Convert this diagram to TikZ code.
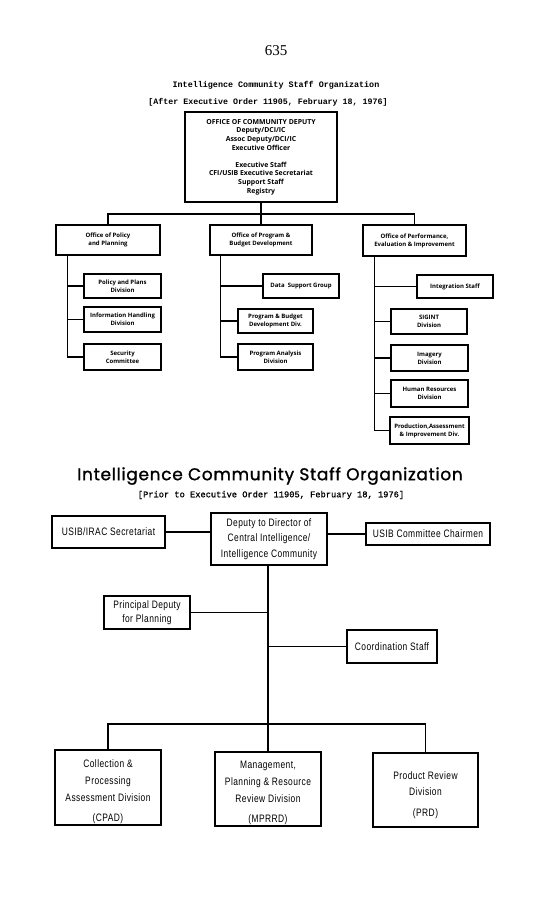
\documentclass[tikz,border=0pt]{standalone}
\usepackage{fontspec}
\setmainfont{Liberation Serif}
\newfontfamily\chartfont{Open Sans}
\newfontfamily\typefont{Liberation Mono}
\newfontfamily\typefontm[FakeBold=0.8]{Liberation Mono}
\newfontfamily\condfont[FakeStretch=0.78,LetterSpace=4]{Liberation Sans}
\newfontfamily\titlefont[FakeBold=1.2,LetterSpace=4]{Poppins}
\begin{document}
\begin{tikzpicture}[x=1pt,y=-1pt,
  box/.style={draw, line width=1.4pt, rectangle, inner sep=0pt, align=center},
  topbox/.style={box, font=\chartfont\bfseries\fontsize{6.9}{8.7}\selectfont},
  subbox/.style={box, font=\chartfont\bfseries\fontsize{6.0}{8}\selectfont},
  lowbox/.style={box, line width=1.2pt, font=\condfont\fontsize{10.8}{16}\selectfont},
  conn/.style={line width=1.3pt},
  lconn/.style={line width=1.1pt}]
\fill[white] (0,0) rectangle (552,901);
\useasboundingbox (0,0) rectangle (552,901);

% titles
\node[font=\fontsize{15}{16}\selectfont] (pg) at (276,51) {635};
\node[font=\typefont\bfseries\fontsize{8.4}{9}\selectfont] (t1) at (276,85) {Intelligence Community Staff Organization};
\node[font=\typefont\bfseries\fontsize{8.3}{9}\selectfont] (t2) at (268,102) {[After Executive Order 11905, February 18, 1976]};

% top chart
\node[topbox, minimum width=152pt, minimum height=90pt] (top) at (261,157)
  {OFFICE OF COMMUNITY DEPUTY\\Deputy/DCI/IC\\Assoc Deputy/DCI/IC\\Executive Officer\\[8pt]Executive Staff\\CFI/USIB Executive Secretariat\\Support Staff\\Registry};
\node[subbox, minimum width=104pt, minimum height=30pt] (b1) at (108,240) {Office of Policy\\and Planning};
\node[subbox, minimum width=102pt, minimum height=30pt] (b2) at (261,240) {Office of Program \&\\Budget Development};
\node[subbox, minimum width=103pt, minimum height=31pt] (b3) at (414.5,240.5) {Office of Performance,\\Evaluation \& Improvement};

\node[subbox, minimum width=77pt, minimum height=24pt] (c11) at (122.5,286) {Policy and Plans\\Division};
\node[subbox, minimum width=77pt, minimum height=25pt] (c12) at (122.5,319.5) {Information Handling\\Division};
\node[subbox, minimum width=77pt, minimum height=26pt] (c13) at (122.5,357) {Security\\Committee};

\node[subbox, minimum width=76pt, minimum height=24pt] (c21) at (301,286) {Data\ \ Support Group};
\node[subbox, minimum width=75pt, minimum height=24pt] (c22) at (275.5,321) {Program \& Budget\\Development Div.};
\node[subbox, minimum width=75pt, minimum height=26pt] (c23) at (275.5,357) {Program Analysis\\Division};

\node[subbox, minimum width=76pt, minimum height=23pt] (c31) at (455,286.5) {Integration Staff};
\node[subbox, minimum width=76pt, minimum height=25pt] (c32) at (429,321.5) {SIGINT\\Division};
\node[subbox, minimum width=77pt, minimum height=26pt] (c33) at (429.5,358) {Imagery\\Division};
\node[subbox, minimum width=77pt, minimum height=27pt] (c34) at (429.5,393.5) {Human Resources\\Division};
\node[subbox, minimum width=79pt, minimum height=27pt, inner xsep=1pt] (c35) at (429.5,430.5) {Production,Assessment\\\& Improvement Div.};

\coordinate (tbus) at (261,214);
\draw[conn] (top.south) -- (tbus);
\draw[conn] (b1.north) |- (tbus) -| (b3.north);
\draw[conn] (tbus) -- (b2.north);

\coordinate (l0) at ([xshift=12pt]b1.south west);
\coordinate (m0) at ([xshift=11pt]b2.south west);
\coordinate (r0) at ([xshift=12pt]b3.south west);
\draw[conn] (l0) |- (c13.west);
\draw[conn] (l0 |- c11.west) -- (c11.west);
\draw[conn] (l0 |- c12.west) -- (c12.west);
\draw[conn] (m0) |- (c23.west);
\draw[conn] (m0 |- c21.west) -- (c21.west);
\draw[conn] (m0 |- c22.west) -- (c22.west);
\draw[conn] (r0) |- (c35.west);
\draw[conn] (r0 |- c31.west) -- (c31.west);
\draw[conn] (r0 |- c32.west) -- (c32.west);
\draw[conn] (r0 |- c33.west) -- (c33.west);
\draw[conn] (r0 |- c34.west) -- (c34.west);

% bottom chart
\node[font=\titlefont\fontsize{17}{20}\selectfont] (t3) at (270,476) {Intelligence Community Staff Organization};
\node[font=\typefontm\fontsize{8.7}{9}\selectfont] (t4) at (271,495) {[Prior to Executive Order 11905, February 18, 1976]};

\node[lowbox, minimum width=113pt, minimum height=32pt] (irac) at (108.5,532) {USIB/IRAC Secretariat};
\node[lowbox, minimum width=116pt, minimum height=52pt, font=\condfont\fontsize{10.8}{15.5}\selectfont] (dep) at (269,539) {Deputy to Director of\\Central Intelligence/\\Intelligence Community};
\node[lowbox, minimum width=124pt, minimum height=22pt] (comm) at (428,534) {USIB Committee Chairmen};
\node[lowbox, minimum width=86pt, minimum height=33pt, font=\condfont\fontsize{10.8}{14}\selectfont] (prin) at (147,612.5) {Principal Deputy\\for Planning};
\node[lowbox, minimum width=90pt, minimum height=33pt] (coord) at (392,646.5) {Coordination Staff};

\node[lowbox, minimum width=106pt, minimum height=75pt, font=\condfont\fontsize{10.8}{17}\selectfont] (cpad) at (108,787.5) {\rule{0pt}{16pt}Collection \&\\Processing\\Assessment Division\\[3pt](CPAD)};
\node[lowbox, minimum width=106pt, minimum height=74pt, font=\condfont\fontsize{10.8}{17}\selectfont] (mprrd) at (268,789) {\rule{0pt}{16pt}Management,\\Planning \& Resource\\Review Division\\[3pt](MPRRD)};
\node[lowbox, minimum width=105pt, minimum height=74pt, font=\condfont\fontsize{10.8}{16}\selectfont] (prd) at (425.5,790) {\rule{0pt}{19pt}Product Review\\Division\\[5pt](PRD)};

\draw[lconn] (irac.east) -- (irac.east -| dep.west);
\draw[lconn] (dep.east |- comm.west) -- (comm.west);
\coordinate (bus) at (268,724);
\draw[lconn] (dep.south -| bus) -- (bus);
\draw[lconn] (prin.east) -- (prin.east -| bus);
\draw[lconn] (coord.west -| bus) -- (coord.west);
\draw[lconn] (cpad.north) |- (bus) -| (prd.north);
\draw[lconn] (bus) -- (mprrd.north);
\end{tikzpicture}
\end{document}
